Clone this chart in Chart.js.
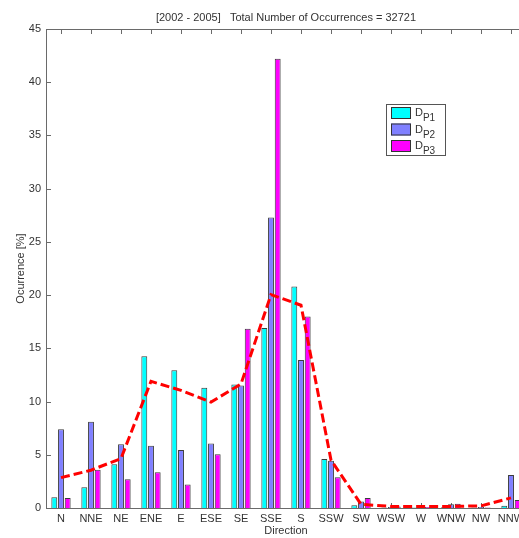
<!DOCTYPE html>
<html>
<head>
<meta charset="utf-8">
<script src="https://cdn.jsdelivr.net/npm/chart.js@4/dist/chart.umd.min.js"></script>
<style>
  html, body { margin: 0; padding: 0; background: #fff; overflow: hidden; width: 519px; height: 538px; }
  canvas { display: block; }
</style>
</head>
<body>
<canvas id="c" width="540" height="538" style="width:540px;height:538px"></canvas>
<script>
// Wind direction sectors
const directions = ['N', 'NNE', 'NE', 'ENE', 'E', 'ESE', 'SE', 'SSE', 'S', 'SSW', 'SW', 'WSW', 'W', 'WNW', 'NW', 'NNW'];

// Occurrence [%] per sector for each period class
const dp1 = [1.0, 1.95, 4.1, 14.25, 12.95, 11.3, 11.6, 16.9, 20.8, 4.6, 0.25, 0.05, 0.05, 0.1, 0.05, 0.22];
const dp2 = [7.4, 8.1, 6.0, 5.85, 5.45, 6.05, 11.5, 27.3, 13.9, 4.45, 0.6, 0.1, 0.1, 0.35, 0.1, 3.1];
const dp3 = [0.95, 3.6, 2.7, 3.35, 2.2, 5.05, 16.85, 42.2, 18.0, 2.9, 0.95, 0.15, 0.1, 0.4, 0.05, 0.75];

// Overall occurrence (all classes together)
const overall = [2.85, 3.55, 4.65, 11.9, 11.05, 9.95, 11.65, 20.05, 19.05, 4.5, 0.35, 0.15, 0.15, 0.15, 0.2, 0.95];

// Legend entries: "D" with a subscript
const seriesSubscripts = ['P1', 'P2', 'P3'];
const seriesColors = ['#00FFFF', '#8080FF', '#FF00FF'];

const yMin = 0, yMax = 45, yStep = 5;
const chartTitle = '[2002 - 2005]   Total Number of Occurrences = 32721';
const xTitle = 'Direction';
const yTitle = 'Ocurrence [%]';

const FONT = 'Liberation Sans, Arial, Helvetica, sans-serif';
const TEXT = '#333333';
const AXIS = '#6a6a6a';

// Box frame, inward tick marks, title and legend
const decorations = {
  id: 'decorations',
  beforeDatasetsDraw(chart) {
    const { ctx, chartArea: a, scales: { x, y } } = chart;
    ctx.save();
    ctx.strokeStyle = AXIS;
    ctx.lineWidth = 1;
    ctx.beginPath();
    ctx.moveTo(a.left, Math.round(a.top) + 0.5);
    ctx.lineTo(a.right, Math.round(a.top) + 0.5);
    x.ticks.forEach((t, i) => {
      const px = Math.round(x.getPixelForTick(i)) + 0.5;
      ctx.moveTo(px, a.top);
      ctx.lineTo(px, a.top + 5);
      ctx.moveTo(px, a.bottom);
      ctx.lineTo(px, a.bottom - 5);
    });
    y.ticks.forEach((t, i) => {
      const py = Math.round(y.getPixelForTick(i)) + 0.5;
      ctx.moveTo(a.left, py);
      ctx.lineTo(a.left + 5, py);
    });
    ctx.stroke();
    ctx.restore();
  },
  afterDraw(chart) {
    const { ctx, chartArea: a } = chart;
    ctx.save();
    // title
    ctx.fillStyle = TEXT;
    ctx.font = '11px ' + FONT;
    ctx.textAlign = 'center';
    ctx.textBaseline = 'middle';
    ctx.fillText(chartTitle, (a.left + a.right) / 2, a.top - 11);

    // legend
    const lx = a.left + 340, ly = a.top + 75, lw = 59, lh = 51;
    ctx.fillStyle = '#ffffff';
    ctx.fillRect(lx, ly, lw, lh);
    ctx.strokeStyle = '#555555';
    ctx.lineWidth = 1;
    ctx.strokeRect(lx + 0.5, ly + 0.5, lw, lh);
    seriesSubscripts.forEach((sub, i) => {
      const ry = ly + 3 + i * 16.5;
      ctx.fillStyle = seriesColors[i];
      ctx.fillRect(lx + 5, ry, 20, 12);
      ctx.strokeStyle = '#333333';
      ctx.strokeRect(lx + 5.5, ry + 0.5, 19, 11);
      ctx.fillStyle = TEXT;
      ctx.textAlign = 'left';
      ctx.textBaseline = 'alphabetic';
      ctx.font = '11px ' + FONT;
      ctx.fillText('D', lx + 29, ry + 9);
      const dw = ctx.measureText('D').width;
      ctx.font = '10px ' + FONT;
      ctx.fillText(sub, lx + 29 + dw, ry + 14);
    });
    ctx.restore();
  }
};

const barStyle = (data, i) => ({
  type: 'bar',
  label: 'D' + seriesSubscripts[i],
  data,
  backgroundColor: seriesColors[i],
  borderColor: '#3c3c3c',
  borderWidth: 1,
  order: 1
});

new Chart(document.getElementById('c'), {
  type: 'bar',
  data: {
    labels: directions,
    datasets: [
      {
        type: 'line',
        label: 'All',
        data: overall,
        borderColor: '#FF0000',
        borderWidth: 3,
        borderDash: [9, 4],
        pointRadius: 0,
        fill: false,
        tension: 0,
        order: 0
      },
      barStyle(dp1, 0),
      barStyle(dp2, 1),
      barStyle(dp3, 2)
    ]
  },
  options: {
    responsive: false,
    animation: false,
    layout: { padding: { left: 0, right: 14, top: 29, bottom: 0 } },
    datasets: { bar: { categoryPercentage: 0.67, barPercentage: 0.88 } },
    plugins: {
      legend: { display: false },
      tooltip: { enabled: false },
      title: { display: false }
    },
    scales: {
      x: {
        offset: true,
        grid: { display: false, drawTicks: false, tickLength: 0 },
        border: { display: true, color: AXIS },
        ticks: { color: TEXT, font: { family: FONT, size: 11 }, padding: 4, maxRotation: 0, autoSkip: false },
        title: { display: true, text: xTitle, color: TEXT, font: { family: FONT, size: 11 }, padding: { top: 0, bottom: 0 } },
        afterFit(s) { s.height = 30; }
      },
      y: {
        min: yMin,
        max: yMax,
        grid: { display: false, drawTicks: false, tickLength: 0 },
        border: { display: true, color: AXIS },
        ticks: { stepSize: yStep, color: TEXT, font: { family: FONT, size: 11 }, padding: 5 },
        title: { display: true, text: yTitle, color: TEXT, font: { family: FONT, size: 11 }, padding: { top: 14, bottom: 0 } },
        afterFit(s) { s.width = 46; }
      }
    }
  },
  plugins: [decorations]
});
</script>
</body>
</html>
